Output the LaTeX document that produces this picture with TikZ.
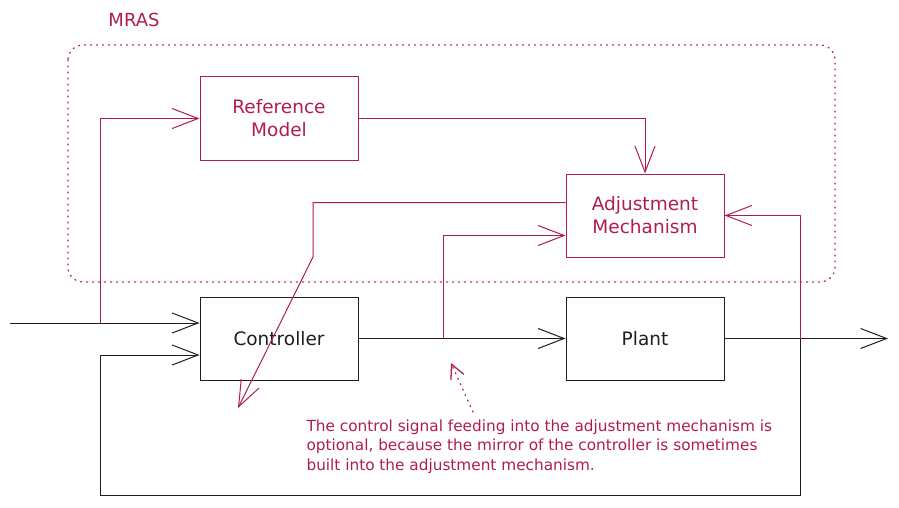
\documentclass[tikz,border=0pt]{standalone}
\usepackage{fontspec}
\setmainfont{DejaVu Sans}
\usetikzlibrary{arrows.meta}
\definecolor{mras}{RGB}{176,28,82}
\definecolor{ink}{RGB}{30,30,30}
\tikzstyle{block} = [rectangle, draw=ink, text=ink, line width=1pt, align=center,
minimum width=158pt, minimum height=83pt, font=\fontsize{18.5}{23}\selectfont]
\tikzstyle{mblock} = [block, draw=mras, text=mras]
\tikzstyle{line} = [draw=ink, line width=1pt, -{Straight Barb[length=26pt,width=20pt]}]
\tikzstyle{mline} = [line, draw=mras]
\tikzstyle{hint} = [draw=mras, line width=1.3pt, dash pattern=on 1pt off 5pt, line cap=round]

\begin{document}
\begin{tikzpicture}[x=1pt, y=-1pt, node distance=366pt]
\useasboundingbox (0,0) rectangle (899,508);

% Place nodes
\node [text=mras, font=\fontsize{18}{22}\selectfont] (title) at (134,20) {MRAS};
\draw [hint, rounded corners=15pt] (68,45) rectangle (835,282);
\node [block] (controller) at (279,338.5) {Controller};
\node [block, right of=controller] (plant) {Plant};
\node [mblock, above of=controller, node distance=220pt] (reference) {Reference\\Model};
\node [mblock, above of=plant, node distance=123pt] (adjust) {Adjustment\\Mechanism};
\node [text=mras, anchor=north west, align=left, font=\fontsize{15.3}{19.5}\selectfont]
  (note) at (303,416) {The control signal feeding into the adjustment mechanism is\\
  optional, because the mirror of the controller is sometimes\\
  built into the adjustment mechanism.};
\coordinate (in) at (10,323);
\coordinate (rtap) at (100,323);
\coordinate (fbl) at (100,495);
\coordinate (fbin) at (100,355);
\coordinate (tap) at (800,338.5);
\coordinate (out) at (888,338.5);
\coordinate (cs) at (443,338.5);
\coordinate (bend) at (313,257);
\coordinate (gain) at (238,408);
\coordinate (notetip) at (451,363);
\coordinate (notetail) at (473,412);

% Draw edges
\path [line] (in) -- (in -| controller.west);
\path [line] (controller) -- (plant);
\path [line] (plant.east) -- (out);
\path [line] (tap) |- (fbl) -- (fbin) -- (fbin -| controller.west);
\path [mline] (rtap) |- (reference.west);
\path [mline] (reference.east) -| (adjust.north);
\path [mline] (cs) |- ([yshift=-20pt]adjust.west);
\path [mline] (tap) |- (adjust.east);
\path [mline] ([yshift=13pt]adjust.west) -| (bend) -- (gain);
\path [hint, -{Straight Barb[length=14pt,width=14pt]}] (notetail) -- (notetip);
\end{tikzpicture}
\end{document}
